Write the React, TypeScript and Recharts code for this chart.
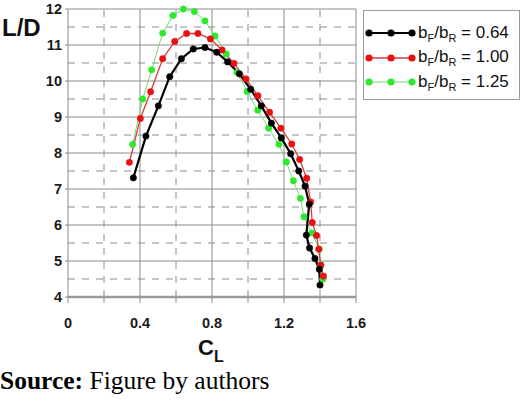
import { Legend, Line, LineChart, ReferenceLine, XAxis, YAxis } from "recharts";

// C_L / (L/D) pairs, one pair of arrays per span ratio
const clBlack = [0.363, 0.433, 0.502, 0.565, 0.63, 0.696, 0.761, 0.826, 0.887, 0.952, 1.015, 1.074, 1.13, 1.185, 1.237, 1.282, 1.317, 1.34, 1.324, 1.342, 1.372, 1.396, 1.4];
const ldBlack = [7.31, 8.47, 9.31, 10.12, 10.62, 10.89, 10.93, 10.8, 10.53, 10.2, 9.77, 9.31, 8.83, 8.42, 7.98, 7.5, 7.08, 6.58, 5.72, 5.36, 5.07, 4.77, 4.33];

const clRed = [0.341, 0.402, 0.459, 0.526, 0.593, 0.659, 0.722, 0.791, 0.856, 0.922, 0.989, 1.055, 1.12, 1.183, 1.243, 1.287, 1.326, 1.348, 1.357, 1.381, 1.393, 1.404, 1.419];
const ldRed = [7.74, 8.96, 9.7, 10.62, 11.1, 11.32, 11.32, 11.17, 10.86, 10.49, 10.06, 9.59, 9.13, 8.69, 8.25, 7.82, 7.3, 6.64, 6.07, 5.71, 5.33, 4.88, 4.58];

const clGreen = [0.359, 0.415, 0.465, 0.526, 0.583, 0.641, 0.702, 0.761, 0.817, 0.879, 0.939, 0.995, 1.054, 1.115, 1.172, 1.213, 1.252, 1.291, 1.311, 1.355, 1.396, 1.405, 1.415];
const ldGreen = [8.24, 9.5, 10.31, 11.33, 11.82, 12.0, 11.93, 11.67, 11.25, 10.75, 10.24, 9.71, 9.19, 8.69, 8.24, 7.75, 7.23, 6.74, 6.23, 5.78, 5.33, 4.9, 4.49];

const ratios = ["0.64", "1.00", "1.25"];

const xTicks = [0, 0.2, 0.4, 0.6, 0.8, 1.0, 1.2, 1.4, 1.6];
const yTicks = [4, 5, 6, 7, 8, 9, 10, 11, 12];
const xMajor = [0.4, 0.8, 1.2, 1.6];
const xMinor = [0.2, 0.6, 1.0, 1.4];
const yMajor = [5, 6, 7, 8, 9, 10, 11, 12];
const yMinor = [4.5, 5.5, 6.5, 7.5, 8.5, 9.5, 10.5, 11.5];

const toPoints = (cl: number[], ld: number[]) => cl.map((c, i) => ({ cl: c, ld: ld[i] }));

const series = [
  { name: ratios[0], data: toPoints(clBlack, ldBlack), dot: "#000000", line: "#000000", width: 2.2 },
  { name: ratios[1], data: toPoints(clRed, ldRed), dot: "#e81010", line: "#d23c3c", width: 1.3 },
  { name: ratios[2], data: toPoints(clGreen, ldGreen), dot: "#2ee82e", line: "#72d872", width: 1 },
];

const GRID = "#8c8c8c";
const SANS = "'Liberation Sans', Arial, sans-serif";
const tickStyle = { fill: "#1a1a1a", fontSize: 14.5, fontWeight: 700, fontFamily: SANS };

function LegendBox() {
  return (
    <div
      style={{
        boxSizing: "border-box",
        width: 157,
        height: 90,
        border: "1.5px solid #9a9a9a",
        background: "#fff",
        paddingTop: 10,
        fontFamily: SANS,
        fontSize: 17,
        color: "#111",
      }}
    >
      {series.map((s) => (
        <div key={s.name} style={{ display: "flex", alignItems: "center", height: 24.5, whiteSpace: "nowrap" }}>
          <svg width={54} height={12} style={{ flex: "none" }}>
            <line x1={5} x2={48} y1={6} y2={6} stroke={s.line} strokeWidth={s.width} />
            {[5, 27, 48].map((cx) => (
              <circle key={cx} cx={cx} cy={6} r={3.6} fill={s.dot} />
            ))}
          </svg>
          <span>
            b<sub style={{ fontSize: 11 }}>F</sub>/b<sub style={{ fontSize: 11 }}>R</sub> = {s.name}
          </span>
        </div>
      ))}
    </div>
  );
}

export default function App() {
  return (
    <div style={{ position: "absolute", left: 0, top: 0, width: 520, height: 403, background: "#fff" }}>
      <LineChart width={520} height={403} margin={{ top: 9, right: 164, bottom: 0, left: 0 }}>
        {xMinor.map((v) => (
          <ReferenceLine key={"xm" + v} x={v} stroke={GRID} strokeDasharray="7 7" />
        ))}
        {yMinor.map((v) => (
          <ReferenceLine key={"ym" + v} y={v} stroke={GRID} strokeDasharray="7 7" />
        ))}
        {xMajor.map((v) => (
          <ReferenceLine key={"xM" + v} x={v} stroke={GRID} />
        ))}
        {yMajor.map((v) => (
          <ReferenceLine key={"yM" + v} y={v} stroke={GRID} />
        ))}
        <XAxis
          dataKey="cl"
          type="number"
          domain={[0, 1.6]}
          ticks={xTicks}
          height={106}
          axisLine={{ stroke: "#9a9a9a", strokeWidth: 2.5 }}
          tickLine={{ stroke: GRID }}
          tickSize={6}
          tickMargin={15}
          tick={tickStyle}
          tickFormatter={(v: number) => (Math.round(v * 10) % 4 === 0 ? String(v) : "")}
        />
        <YAxis
          type="number"
          domain={[4, 12]}
          ticks={yTicks}
          width={68}
          axisLine={{ stroke: GRID }}
          tickLine={{ stroke: GRID }}
          tickSize={3}
          tickMargin={3}
          tick={tickStyle}
        />
        <Legend
          layout="vertical"
          align="center"
          verticalAlign="middle"
          wrapperStyle={{ position: "absolute", left: 363, top: 10, width: 157, height: 90 }}
          content={() => <LegendBox />}
        />
        {[...series].reverse().map((s) => (
          <Line
            key={s.name}
            data={s.data}
            dataKey="ld"
            name={s.name}
            type="linear"
            stroke={s.line}
            strokeWidth={s.width}
            dot={{ r: 3.2, fill: s.dot, stroke: s.dot, strokeWidth: 0.5 }}
            activeDot={false}
            isAnimationActive={false}
          />
        ))}
      </LineChart>
      <svg
        width={520}
        height={403}
        style={{ position: "absolute", left: 0, top: 0, pointerEvents: "none" }}
      >
        <text x={2} y={36} fontFamily={SANS} fontWeight={700} fontSize={24} fill="#111">
          L/D
        </text>
        <text x={198} y={355} fontFamily={SANS} fontWeight={700} fontSize={22} fill="#111">
          C
        </text>
        <text x={214} y={362} fontFamily={SANS} fontWeight={700} fontSize={16} fill="#111">
          L
        </text>
        <text x={0} y={389} fontFamily="'Liberation Serif', 'Times New Roman', serif" fontSize={25.5} fill="#000">
          <tspan fontWeight={700}>Source:</tspan> Figure by authors
        </text>
      </svg>
    </div>
  );
}
